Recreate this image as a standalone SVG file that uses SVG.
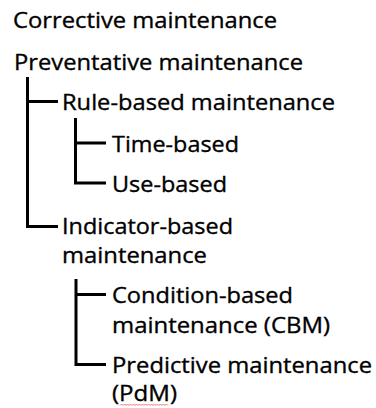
<svg xmlns="http://www.w3.org/2000/svg" width="376" height="408" viewBox="0 0 376 408">
<style>
text{font-family:"Open Sans","Noto Sans",sans-serif;font-size:22.5px;fill:#000;stroke:#000;stroke-width:0.35}
.c{fill:none;stroke:#000;stroke-width:3}
</style>
<rect width="376" height="408" fill="#fff"/>
<g id="connectors">
<path class="c" d="M27.5,77 V226.5 H58 M27.5,101.5 H58"/>
<path class="c" d="M75.5,118 V183 H106 M75.5,143 H106"/>
<path class="c" d="M76,279 V364.5 H106 M76,294.5 H106"/>
</g>
<g id="corrective"><text x="13" y="28" textLength="264" lengthAdjust="spacingAndGlyphs">Corrective maintenance</text></g>
<g id="preventative"><text x="14" y="70" textLength="289" lengthAdjust="spacingAndGlyphs">Preventative maintenance</text></g>
<g id="rule"><text x="62" y="110" textLength="273" lengthAdjust="spacingAndGlyphs">Rule-based maintenance</text></g>
<g id="time"><text x="112" y="152" textLength="127" lengthAdjust="spacingAndGlyphs">Time-based</text></g>
<g id="use"><text x="112" y="192" textLength="115" lengthAdjust="spacingAndGlyphs">Use-based</text></g>
<g id="indicator"><text x="62" y="234" textLength="171" lengthAdjust="spacingAndGlyphs">Indicator-based</text><text x="62" y="263" textLength="145" lengthAdjust="spacingAndGlyphs">maintenance</text></g>
<g id="condition"><text x="112" y="303" textLength="181" lengthAdjust="spacingAndGlyphs">Condition-based</text><text x="112" y="333" textLength="218" lengthAdjust="spacingAndGlyphs">maintenance (CBM)</text></g>
<g id="predictive"><text x="112" y="373" textLength="260" lengthAdjust="spacingAndGlyphs">Predictive maintenance</text><text x="112" y="401" textLength="65" lengthAdjust="spacingAndGlyphs">(PdM)</text>
<path d="M120,405.5 l1.5,-1.5 l1.5,1.5 l1.5,-1.5 l1.5,1.5 l1.5,-1.5 l1.5,1.5 l1.5,-1.5 l1.5,1.5 l1.5,-1.5 l1.5,1.5 l1.5,-1.5 l1.5,1.5 l1.5,-1.5 l1.5,1.5 l1.5,-1.5 l1.5,1.5 l1.5,-1.5 l1.5,1.5 l1.5,-1.5 l1.5,1.5 l1.5,-1.5 l1.5,1.5 l1.5,-1.5 l1.5,1.5 l1.5,-1.5 l1.5,1.5 l1.5,-1.5 l1.5,1.5 l1.5,-1.5 l1.5,1.5 l1.5,-1.5 l1.5,1.5" fill="none" stroke="#e8685f" stroke-width="0.9"/></g>
</svg>
